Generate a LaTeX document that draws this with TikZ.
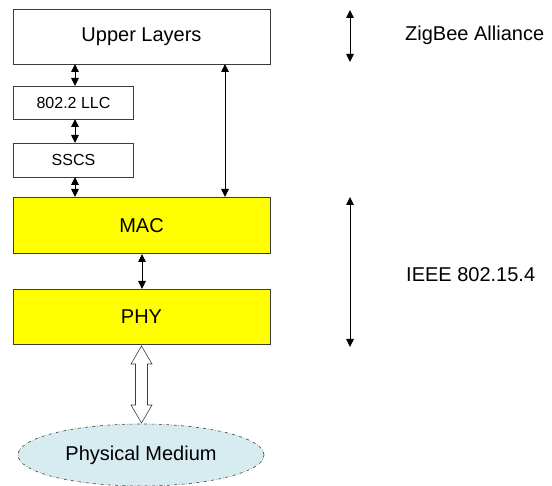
\documentclass[tikz,border=0pt]{standalone}
\usepackage{fontspec}
\setmainfont{Liberation Sans}
\usetikzlibrary{arrows.meta,shapes.geometric,calc}
\definecolor{macyellow}{RGB}{255,255,0}
\definecolor{medblue}{RGB}{214,236,241}
\definecolor{edgegray}{RGB}{60,60,60}
\begin{document}
\begin{tikzpicture}[x=1pt,y=-1pt,
  layerbox/.style={draw=edgegray,line width=0.8pt,inner sep=0pt,font=\fontsize{20}{22}\selectfont},
  smallbox/.style={draw=edgegray,line width=0.8pt,inner sep=0pt,font=\fontsize{16}{18}\selectfont},
  biarrow/.style={{Triangle[length=8pt,width=7.5pt]}-{Triangle[length=8pt,width=7.5pt]},line width=0.9pt},
  hollowarrow/.style={draw=edgegray,fill=white,line width=0.6pt,line join=miter},
  lbl/.style={anchor=west,inner sep=0pt,font=\fontsize{20}{22}\selectfont}]
\useasboundingbox (0,0) rectangle (552,486);
\node[layerbox,minimum width=257pt,minimum height=55pt] (upper) at (141.5,36.5) {Upper Layers};
\node[smallbox,minimum width=120pt,minimum height=33pt] (llc) at (73.5,102.5) {802.2 LLC};
\node[smallbox,minimum width=120pt,minimum height=34pt] (sscs) at (73.5,160) {SSCS};
\node[layerbox,fill=macyellow,minimum width=257pt,minimum height=56pt] (mac) at (141.5,225.5) {MAC};
\node[layerbox,fill=macyellow,minimum width=257pt,minimum height=55pt] (phy) at (141.5,316.5) {PHY};
\node[ellipse,draw=edgegray,fill=medblue,dash dot,line width=0.6pt,minimum width=246pt,minimum height=62pt,inner sep=0pt,font=\fontsize{20}{22}\selectfont] (med) at (141,455) {Physical Medium};
\coordinate (h1) at (141.5,346);
\coordinate (h2) at (141.5,423);
\path[hollowarrow] (h1) -- ++(10.5,18) -- ++(-4.5,0) -- ($(h2)+(6,-18)$) -- ++(4.5,0) -- (h2) -- ++(-10.5,-18) -- ++(4.5,0) -- ($(h1)+(-6,18)$) -- ++(-4.5,0) -- cycle;
\coordinate (a1) at (75,64);
\coordinate (a2) at (75,86);
\draw[biarrow] (a1) -- (a2);
\coordinate (b1) at (75,119);
\coordinate (b2) at (75,143);
\draw[biarrow] (b1) -- (b2);
\coordinate (c1) at (75,177);
\coordinate (c2) at (75,197);
\draw[biarrow] (c1) -- (c2);
\coordinate (d1) at (225,64);
\coordinate (d2) at (225,197);
\draw[biarrow] (d1) -- (d2);
\coordinate (e1) at (142,254);
\coordinate (e2) at (142,289);
\draw[biarrow] (e1) -- (e2);
\coordinate (z1) at (350,10);
\coordinate (z2) at (350,62);
\draw[biarrow] (z1) -- (z2);
\coordinate (i1) at (350,197);
\coordinate (i2) at (350,347);
\draw[biarrow] (i1) -- (i2);
\node[lbl] (zig) at (405,35) {ZigBee Alliance};
\node[lbl] (ieee) at (406,275) {IEEE 802.15.4};
\end{tikzpicture}
\end{document}
